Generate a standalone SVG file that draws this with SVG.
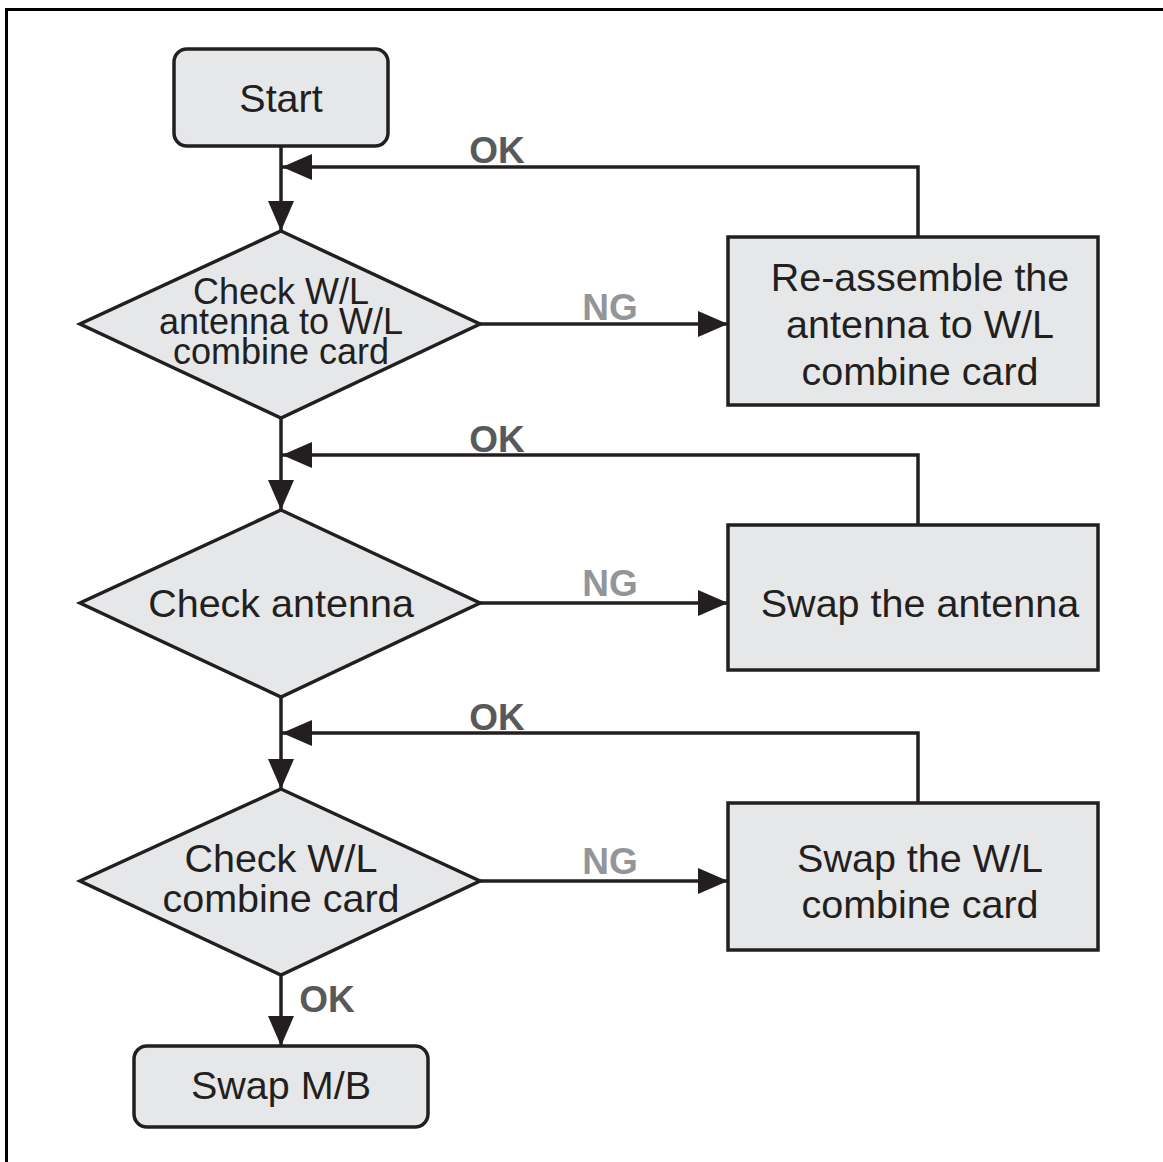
<svg xmlns="http://www.w3.org/2000/svg" width="1163" height="1162" viewBox="0 0 1163 1162">
<style>
.node{fill:#e6e7e8;stroke:#231f20;stroke-width:3.5}
.t{font-family:"Liberation Sans",Arial,sans-serif;font-size:39.5px;fill:#231f20;text-anchor:middle}
.t2{font-family:"Liberation Sans",Arial,sans-serif;font-size:36px;fill:#231f20;text-anchor:middle}
.ok{font-family:"Liberation Sans",Arial,sans-serif;font-size:37px;font-weight:bold;fill:#58595b;text-anchor:middle}
.ng{font-family:"Liberation Sans",Arial,sans-serif;font-size:37px;font-weight:bold;fill:#939598;text-anchor:middle}
.c{fill:none;stroke:#231f20;stroke-width:3.5;marker-end:url(#ah)}
</style>
<defs>
<marker id="ah" markerUnits="userSpaceOnUse" markerWidth="30" markerHeight="26" refX="30" refY="13" orient="auto">
<path d="M0,0 L30,13 L0,26 z" fill="#231f20"/>
</marker>
</defs>
<rect width="1163" height="1162" fill="#ffffff"/>
<path d="M6.5,1162 V9.5 H1163" fill="none" stroke="#000" stroke-width="3"/>
<g id="connectors">
<line class="c" x1="281" y1="146" x2="281" y2="231"/>
<line class="c" x1="281" y1="418" x2="281" y2="510"/>
<line class="c" x1="281" y1="697" x2="281" y2="789"/>
<line class="c" x1="281" y1="975" x2="281" y2="1046"/>
<line class="c" x1="480" y1="324" x2="728" y2="324"/>
<line class="c" x1="480" y1="603" x2="728" y2="603"/>
<line class="c" x1="480" y1="881" x2="728" y2="881"/>
<polyline class="c" points="918,237 918,167 282,167"/>
<polyline class="c" points="918,525 918,455 282,455"/>
<polyline class="c" points="918,803 918,733 282,733"/>
<text class="ok" x="497" y="163">OK</text>
<text class="ok" x="497" y="452">OK</text>
<text class="ok" x="497" y="730">OK</text>
<text class="ok" x="327" y="1012">OK</text>
<text class="ng" x="610" y="320">NG</text>
<text class="ng" x="610" y="596">NG</text>
<text class="ng" x="610" y="874">NG</text>
</g>
<g id="start">
<rect class="node" x="174" y="49" width="214" height="97" rx="13"/>
<text class="t" x="281" y="112">Start</text>
</g>
<g id="check1">
<polygon class="node" points="281,231 480,324 281,418 80,324"/>
<text class="t2" x="281" y="304">Check W/L</text>
<text class="t2" x="281" y="334">antenna to W/L</text>
<text class="t2" x="281" y="364">combine card</text>
</g>
<g id="reassemble">
<rect class="node" x="728" y="237" width="370" height="168"/>
<text class="t" x="920" y="291">Re-assemble the</text>
<text class="t" x="920" y="338">antenna to W/L</text>
<text class="t" x="920" y="385">combine card</text>
</g>
<g id="check2">
<polygon class="node" points="281,510 480,603 281,697 80,603"/>
<text class="t" x="281" y="617">Check antenna</text>
</g>
<g id="swapantenna">
<rect class="node" x="728" y="525" width="370" height="145"/>
<text class="t" x="920" y="617">Swap the antenna</text>
</g>
<g id="check3">
<polygon class="node" points="281,789 480,881 281,975 80,881"/>
<text class="t" x="281" y="872">Check W/L</text>
<text class="t" x="281" y="912">combine card</text>
</g>
<g id="swapcard">
<rect class="node" x="728" y="803" width="370" height="147"/>
<text class="t" x="920" y="872">Swap the W/L</text>
<text class="t" x="920" y="918">combine card</text>
</g>
<g id="swapmb">
<rect class="node" x="134" y="1046" width="294" height="81" rx="13"/>
<text class="t" x="281" y="1099">Swap M/B</text>
</g>
</svg>
